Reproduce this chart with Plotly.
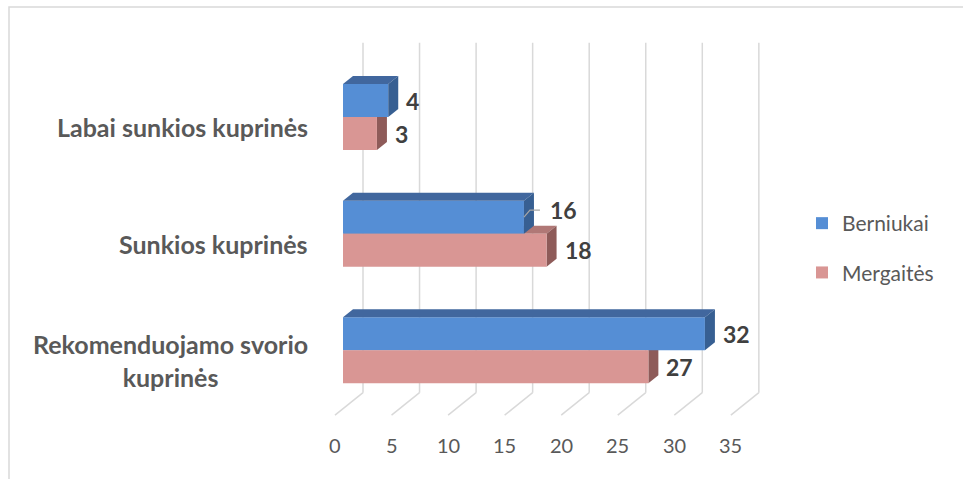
import plotly.graph_objects as go

# ---------------- data ----------------
categories = ["Labai sunkios kuprinės", "Sunkios kuprinės", "Rekomenduojamo svorio kuprinės"]
category_labels = ["Labai sunkios kuprinės", "Sunkios kuprinės", "Rekomenduojamo svorio<br>kuprinės"]
berniukai = [4, 16, 32]
mergaites = [3, 18, 27]
series_names = ["Berniukai", "Mergaitės"]
ticks = [0, 5, 10, 15, 20, 25, 30, 35]

# ---------------- geometry / style ----------------
W, H = 963, 479
X0_PX, PX_X = 343.0, 11.31      # pixel of value 0 (front plane), px per unit
Y0_PX, PX_Y = 117.0, 116.67     # pixel of first category, px per category
BAR_PX = 33.0
w = BAR_PX / PX_Y               # bar thickness in category units
bargap = 1 - 2 * w

dx, dy = 10 / PX_X, 8 / PX_Y            # bar depth
bdx, bdy = 20 / PX_X, 16 / PX_Y         # back wall offset
fdx, fdy = -8 / PX_X, -6.5 / PX_Y       # front floor offset
floor = len(categories) - 0.5
top = -0.5

BLUE, BLUE_TOP, BLUE_SIDE = "#558ED5", "#41679E", "#375F92"
PINK, PINK_TOP, PINK_SIDE = "#D99694", "#B07876", "#8E5B59"
GRID = "#D9D9D9"
FONT = "Lato"

fig = go.Figure()
fig.add_trace(go.Bar(y=categories, x=berniukai, name=series_names[0], orientation="h",
                     marker=dict(color=BLUE, line=dict(width=0)), legendgroup="b",
                     hoverinfo="x+name"))
fig.add_trace(go.Bar(y=categories, x=mergaites, name=series_names[1], orientation="h",
                     marker=dict(color=PINK, line=dict(width=0)), legendgroup="m",
                     hoverinfo="x+name"))

shapes = []
# back-wall gridlines and floor lines
for k in ticks:
    shapes.append(dict(type="line", xref="x", yref="y", layer="below",
                       x0=k + bdx, x1=k + bdx, y0=floor - bdy, y1=top - bdy,
                       line=dict(color=GRID, width=1.5)))
    shapes.append(dict(type="line", xref="x", yref="y", layer="below",
                       x0=k + bdx, x1=k + fdx, y0=floor - bdy, y1=floor - fdy,
                       line=dict(color=GRID, width=1.5)))

def path(pts):
    return "M " + " L ".join(f"{x},{y}" for x, y in pts) + " Z"

for i, (vb, vm) in enumerate(zip(berniukai, mergaites)):
    # pink (lower bar) faces - drawn below traces
    yt, yb = i, i + w
    shapes.append(dict(type="path", xref="x", yref="y", layer="below", line=dict(width=0),
                       fillcolor=PINK_TOP,
                       path=path([(0, yt), (vm, yt), (vm + dx, yt - dy), (dx, yt - dy)])))
    shapes.append(dict(type="path", xref="x", yref="y", layer="below", line=dict(width=0),
                       fillcolor=PINK_SIDE,
                       path=path([(vm, yt), (vm + dx, yt - dy), (vm + dx, yb - dy), (vm, yb)])))
    # blue (upper bar) faces - drawn above
    yt, yb = i - w, i
    shapes.append(dict(type="path", xref="x", yref="y", layer="above", line=dict(width=0),
                       fillcolor=BLUE_TOP,
                       path=path([(0, yt), (vb, yt), (vb + dx, yt - dy), (dx, yt - dy)])))
    shapes.append(dict(type="path", xref="x", yref="y", layer="above", line=dict(width=0),
                       fillcolor=BLUE_SIDE,
                       path=path([(vb, yt), (vb + dx, yt - dy), (vb + dx, yb - dy), (vb, yb)])))

# leader line for the "16" label
i16 = berniukai.index(16)
yc = i16 - w / 2
shapes.append(dict(type="path", xref="x", yref="y", layer="above", line=dict(color="#A6A6A6", width=1.2),
                   path=f"M {16},{yc} L {16 + 6 / PX_X},{yc - 7 / PX_Y} L {16 + 16 / PX_X},{yc - 7 / PX_Y}"))

# outer chart border
shapes.append(dict(type="rect", xref="paper", yref="paper",
                   x0=9 / W, x1=1.02, y0=-0.02, y1=1 - 7 / H,
                   line=dict(color=GRID, width=1.5)))

annotations = []
# tick labels
for k in ticks:
    annotations.append(dict(x=k + fdx, y=floor + 36 / PX_Y, xref="x", yref="y", text=str(k),
                            showarrow=False, xanchor="center", yanchor="middle",
                            font=dict(family=FONT, size=20, color="#595959")))
# category labels
for i, lab in enumerate(category_labels):
    annotations.append(dict(x=310 / W, y=i, xref="paper", yref="y", text=lab, showarrow=False,
                            xanchor="right", yanchor="middle", align="center", yshift=-10,
                            font=dict(family=FONT, size=25, color="#595959", weight="bold")))
# data labels
for i, (vb, vm) in enumerate(zip(berniukai, mergaites)):
    shift_b = 24 if vb == 16 else 16
    ysh_b = 7 if vb == 16 else 0
    annotations.append(dict(x=vb, y=i - w / 2, xref="x", yref="y", text=str(vb), showarrow=False,
                            xanchor="left", yanchor="middle", xshift=shift_b, yshift=ysh_b,
                            font=dict(family=FONT, size=23, color="#404040", weight="bold")))
    annotations.append(dict(x=vm, y=i + w / 2, xref="x", yref="y", text=str(vm), showarrow=False,
                            xanchor="left", yanchor="middle", xshift=16,
                            font=dict(family=FONT, size=23, color="#404040", weight="bold")))

fig.update_layout(
    width=W, height=H,
    margin=dict(l=0, r=0, t=0, b=0),
    paper_bgcolor="white", plot_bgcolor="white",
    barmode="group", bargap=bargap, bargroupgap=0,
    xaxis=dict(domain=[0, 1], range=[-X0_PX / PX_X, (W - X0_PX) / PX_X], visible=False,
               fixedrange=True),
    yaxis=dict(domain=[0, 1], range=[(H - Y0_PX) / PX_Y, -Y0_PX / PX_Y], visible=False,
               type="category", categoryorder="array", categoryarray=categories, fixedrange=True),
    shapes=shapes,
    annotations=annotations,
    showlegend=True,
    legend=dict(x=802 / W, y=1 - 203 / H, xanchor="left", yanchor="top",
                traceorder="grouped", tracegroupgap=19,
                font=dict(family=FONT, size=21, color="#595959"),
                bgcolor="rgba(0,0,0,0)"),
    font=dict(family=FONT),
)

fig.write_html("out.html")
